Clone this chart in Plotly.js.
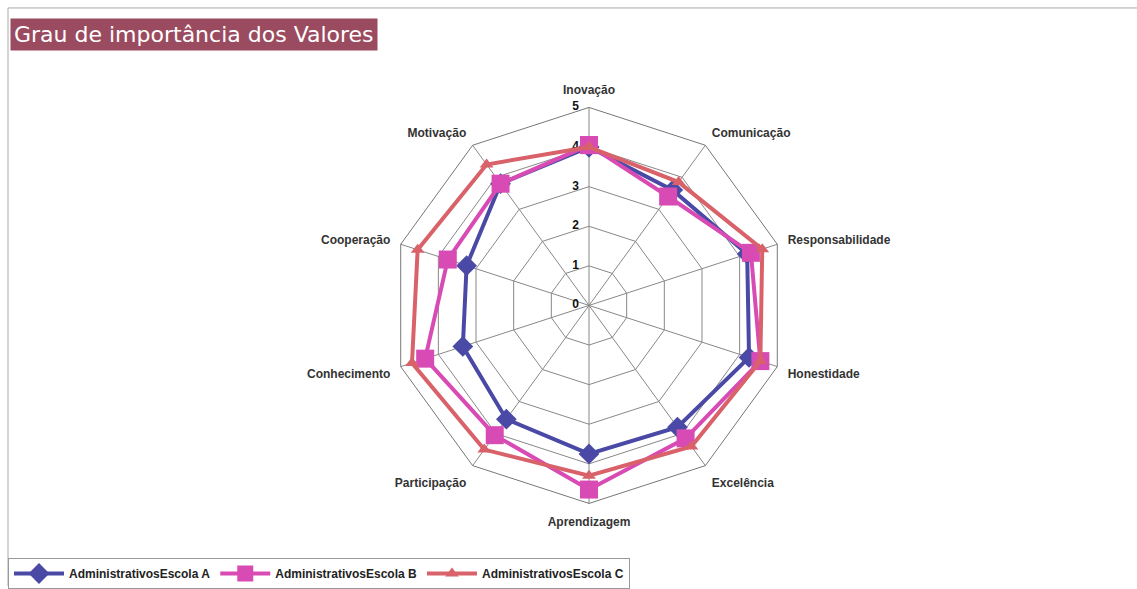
<!DOCTYPE html>
<html>
<head>
<meta charset="utf-8">
<script src="https://cdn.plot.ly/plotly-3.0.1.min.js"></script>
<style>
  body { margin: 0; background: #fff; }
  #chart { width: 1137px; height: 589px; }
</style>
</head>
<body>
<div id="chart"></div>
<script>
// categorias (sentido horário a partir do topo)
const valores = ['Inovação', 'Comunicação', 'Responsabilidade', 'Honestidade', 'Excelência',
                 'Aprendizagem', 'Participação', 'Conhecimento', 'Cooperação', 'Motivação'];
const escolaA = [4.0, 3.6, 4.2, 4.25, 3.8, 3.75, 3.55, 3.35, 3.25, 3.8];
const escolaB = [4.05, 3.4, 4.3, 4.55, 4.15, 4.65, 4.05, 4.35, 3.75, 3.8];
const escolaC = [4.0, 3.85, 4.6, 4.55, 4.4, 4.3, 4.5, 4.7, 4.55, 4.4];
// marcas do eixo radial
const escala = [0, 1, 2, 3, 4, 5];

// fecha o polígono
const close = arr => arr.concat([arr[0]]);

const data = [
  {
    // rótulos da escala, à esquerda do raio de cima
    type: 'scatterpolar', mode: 'text', showlegend: false, hoverinfo: 'skip',
    cliponaxis: false,
    r: escala.map(v => v === 0 ? 0.001 : v), theta: escala.map(() => valores[0]),
    text: escala.map(v => v + '\u00a0\u00a0\u00a0'),
    textposition: 'middle left',
    textfont: {size: 12, color: '#111', weight: 'bold'}
  },
  {
    type: 'scatterpolar', mode: 'lines+markers',
    r: close(escolaA), theta: close(valores),
    name: 'AdministrativosEscola A',
    line: {color: '#4a4aa6', width: 4},
    marker: {symbol: 'diamond', size: 16, color: '#4a4aa6'}
  },
  {
    type: 'scatterpolar', mode: 'lines+markers',
    r: close(escolaB), theta: close(valores),
    name: 'AdministrativosEscola B',
    line: {color: '#d94bb4', width: 4},
    marker: {symbol: 'square', size: 18, color: '#d94bb4'}
  },
  {
    type: 'scatterpolar', mode: 'lines+markers',
    r: close(escolaC), theta: close(valores),
    name: 'AdministrativosEscola C',
    line: {color: '#d9626a', width: 4},
    marker: {symbol: 'triangle-up', size: 12, color: '#d9626a'}
  }
];

const layout = {
  width: 1137, height: 589,
  margin: {l: 0, r: 0, t: 0, b: 0},
  paper_bgcolor: '#fff',
  font: {family: 'Liberation Sans, Arial, sans-serif', size: 12, color: '#222'},
  showlegend: true,
  legend: {
    orientation: 'h', x: 8 / 1137, y: 1 - 561 / 589, xanchor: 'left', yanchor: 'top',
    bordercolor: '#999', borderwidth: 1, bgcolor: '#fff',
    font: {size: 12, color: '#222', weight: 'bold'}, tracegroupgap: 0, itemwidth: 50
  },
  polar: {
    domain: {x: [390 / 1137, 788 / 1137], y: [1 - 506 / 589, 1 - 108 / 589]},
    gridshape: 'linear',
    bgcolor: '#fff',
    angularaxis: {
      direction: 'clockwise', rotation: 90,
      showline: true, linecolor: '#777', linewidth: 1,
      gridcolor: '#888', gridwidth: 1,
      ticks: 'outside', ticklen: 8, tickcolor: 'rgba(0,0,0,0)',
      tickfont: {size: 12, color: '#333', weight: 'bold'}
    },
    radialaxis: {
      range: [0, 5], dtick: 1, angle: 90,
      showticklabels: false,
      showline: false, gridcolor: '#888', gridwidth: 1, ticks: ''
    }
  },
  annotations: [{
    xref: 'paper', yref: 'paper', x: 10 / 1137, y: 1 - 18 / 589,
    xanchor: 'left', yanchor: 'top', showarrow: false,
    text: 'Grau de importância dos Valores',
    font: {size: 22, color: '#fff', family: 'DejaVu Sans, sans-serif'},
    bgcolor: '#9b4b5f', borderpad: 3
  }],
  shapes: [
    {type: 'line', xref: 'paper', yref: 'paper', x0: 8 / 1137, x1: 1, y0: 1 - 8 / 589, y1: 1 - 8 / 589,
     line: {color: '#aaa', width: 1}},
    {type: 'line', xref: 'paper', yref: 'paper', x0: 8 / 1137, x1: 8 / 1137, y0: 0, y1: 1 - 8 / 589,
     line: {color: '#aaa', width: 1}}
  ]
};

Plotly.newPlot('chart', data, layout, {displayModeBar: false});
</script>
</body>
</html>
